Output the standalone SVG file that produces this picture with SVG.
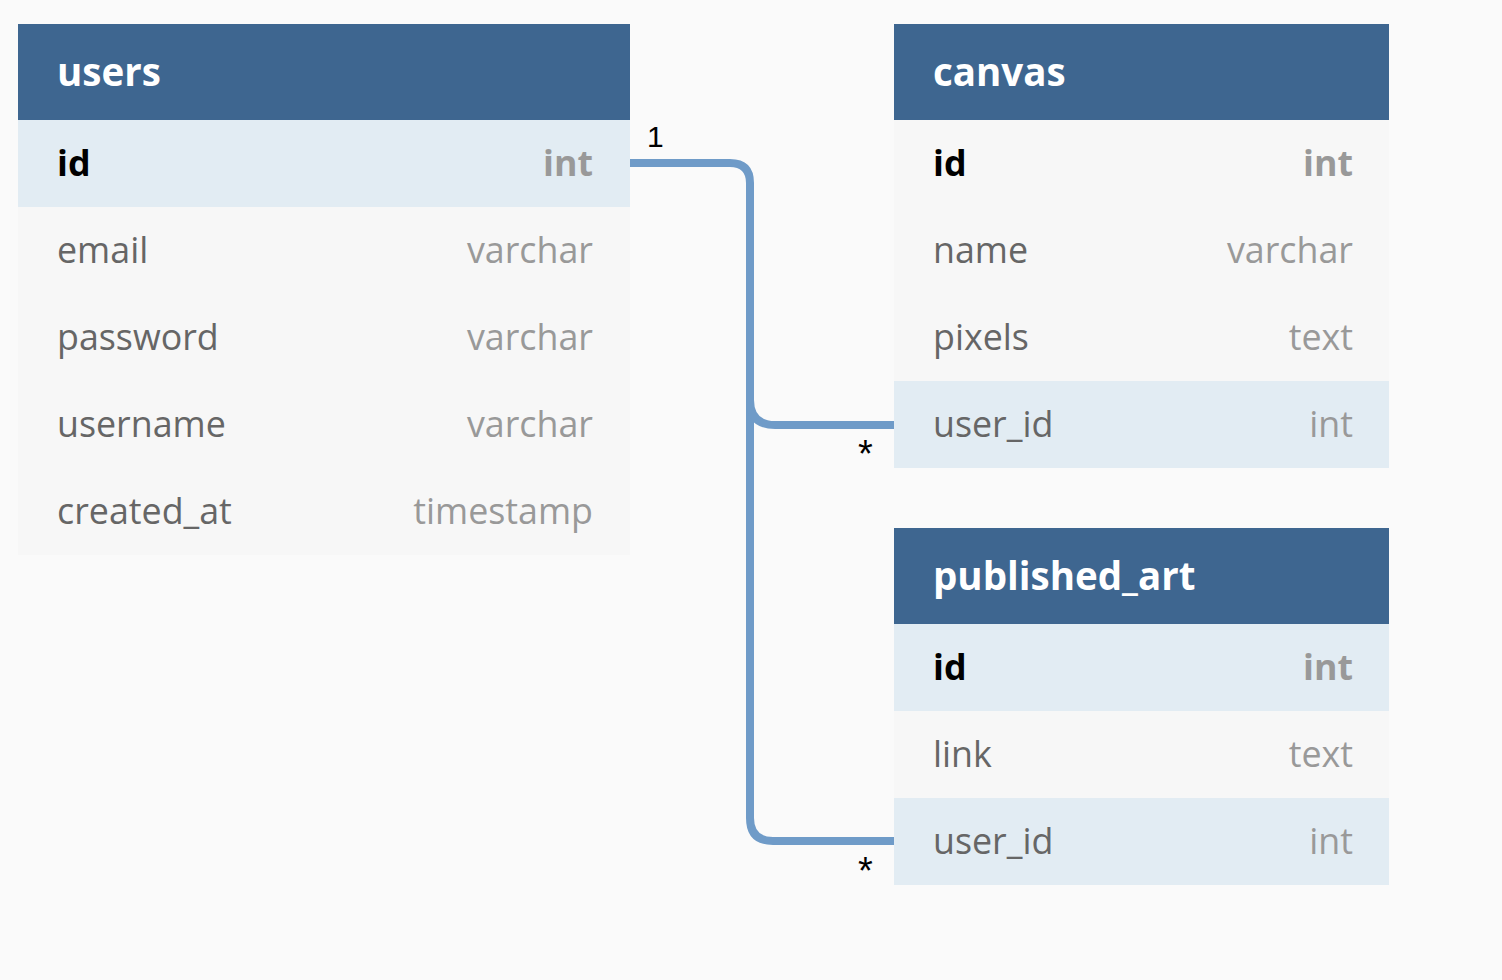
<svg xmlns="http://www.w3.org/2000/svg" width="1502" height="980" viewBox="0 0 1502 980">
<style>
.hdr{fill:#3e6690}
.row{fill:#f7f7f7}
.hl{fill:#e2ecf3}
.title{font-family:"Open Sans",sans-serif;font-weight:700;font-size:38.5px;fill:#ffffff}
.f{font-family:"Open Sans",sans-serif;font-size:35.8px;fill:#666666}
.t{font-family:"Open Sans",sans-serif;font-size:35.8px;fill:#999999;text-anchor:end}
.pk{font-weight:700;fill:#000000}
.pkt{font-weight:700}
.conn{fill:none;stroke:#6f9bc8;stroke-width:8}
.lbl{font-family:"Liberation Sans",Arial,sans-serif;font-size:30px;fill:#000000}
.star{font-family:"Liberation Sans",Arial,sans-serif;font-size:38px;fill:#000000}
</style>
<rect x="0" y="0" width="1502" height="980" fill="#fafafa"/>
<g id="users">
<rect class="hdr" x="18" y="24" width="612" height="96"/>
<text class="title" x="57" y="86">users</text>
<rect class="hl" x="18" y="120" width="612" height="87"/>
<rect class="row" x="18" y="207" width="612" height="348"/>
<text class="f pk" x="57" y="176">id</text><text class="t pkt" x="593" y="176">int</text>
<text class="f" x="57" y="263">email</text><text class="t" x="593" y="263">varchar</text>
<text class="f" x="57" y="350">password</text><text class="t" x="593" y="350">varchar</text>
<text class="f" x="57" y="437">username</text><text class="t" x="593" y="437">varchar</text>
<text class="f" x="57" y="524">created_at</text><text class="t" x="593" y="524">timestamp</text>
</g>
<g id="canvas">
<rect class="hdr" x="894" y="24" width="495" height="96"/>
<text class="title" x="933" y="86">canvas</text>
<rect class="row" x="894" y="120" width="495" height="261"/>
<rect class="hl" x="894" y="381" width="495" height="87"/>
<text class="f pk" x="933" y="176">id</text><text class="t pkt" x="1353" y="176">int</text>
<text class="f" x="933" y="263">name</text><text class="t" x="1353" y="263">varchar</text>
<text class="f" x="933" y="350">pixels</text><text class="t" x="1353" y="350">text</text>
<text class="f" x="933" y="437">user_id</text><text class="t" x="1353" y="437">int</text>
</g>
<g id="published_art">
<rect class="hdr" x="894" y="528" width="495" height="96"/>
<text class="title" x="933" y="590">published_art</text>
<rect class="hl" x="894" y="624" width="495" height="87"/>
<rect class="row" x="894" y="711" width="495" height="87"/>
<rect class="hl" x="894" y="798" width="495" height="87"/>
<text class="f pk" x="933" y="680">id</text><text class="t pkt" x="1353" y="680">int</text>
<text class="f" x="933" y="767">link</text><text class="t" x="1353" y="767">text</text>
<text class="f" x="933" y="854">user_id</text><text class="t" x="1353" y="854">int</text>
</g>
<g id="connectors">
<path class="conn" d="M630,163 H730 Q750,163 750,183 V818 Q750,841 773,841 H894"/>
<path class="conn" d="M750,400 Q750,425 775,425 H894"/>
<text class="lbl" x="647" y="147">1</text>
<text class="star" x="858" y="467">*</text>
<text class="star" x="858" y="884">*</text>
</g>
</svg>
